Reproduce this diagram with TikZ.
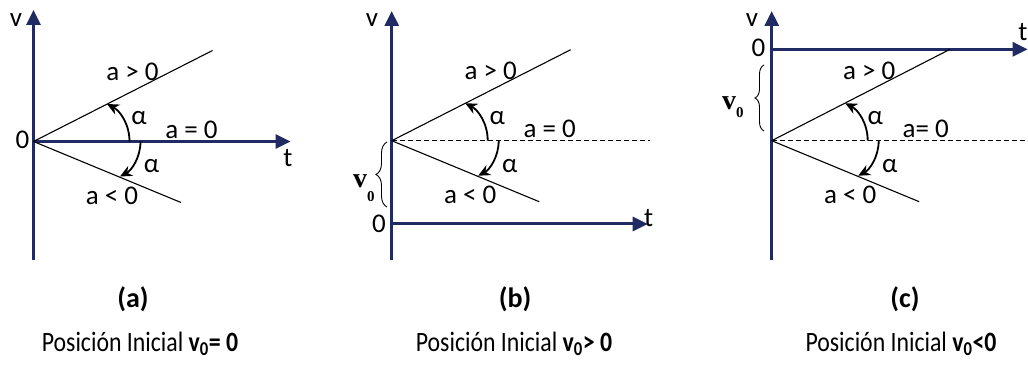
\documentclass[tikz,border=0pt]{standalone}
\usepackage{fontspec}
\setmainfont{Carlito}
\newfontfamily\serifv{Liberation Serif}
\usetikzlibrary{arrows.meta,decorations.pathreplacing}
\definecolor{navy}{RGB}{31,43,98}
\newcommand{\cond}[1]{\scalebox{0.85}[1]{#1}}
\begin{document}
\begin{tikzpicture}[x=1pt,y=-1pt,
  every node/.style={font=\fontsize{27}{32}\selectfont, inner sep=0pt},
  axis/.style={navy, line width=3pt, -{Triangle[length=15pt,width=14pt]}},
  thinline/.style={black, line width=1.1pt},
  zeroline/.style={black, line width=0.9pt, dash pattern=on 5pt off 3pt},
  anglearc/.style={black, line width=1.8pt, -{Stealth[length=12pt,width=11pt]}},
  lbl/.style={anchor=base},
  caption/.style={anchor=base, font=\bfseries\fontsize{28}{32}\selectfont},
  bottomline/.style={anchor=base, font=\fontsize{28}{32}\selectfont},
  bracestyle/.style={black, line width=0.9pt, decorate},
  vzero/.style={anchor=base west, font=\serifv\bfseries\fontsize{28}{30}\selectfont}
]
\useasboundingbox (0,0) rectangle (1028,366);

% ---------- panel (a)
\begin{scope}[shift={(33.5,141.5)}]
  \coordinate (aO) at (0,0);
  \coordinate (aVb) at (0,118.5);
  \coordinate (aVt) at (0,-131.5);
  \coordinate (aTe) at (257,0);
  \coordinate (aU) at (179,-91);
  \coordinate (aL) at (147.5,61);
  \coordinate (aS1) at (96,0);
  \coordinate (aE1) at (73.5,-37.5);
  \coordinate (aS2) at (107,0);
  \coordinate (aE2) at (86.5,35);
  \draw[axis] (aVb) -- (aVt);
  \draw[axis] (aO) -- (aTe);
  \draw[thinline] (aO) -- (aU);
  \draw[thinline] (aO) -- (aL);
  \draw[anglearc] (aS1) .. controls (96,-18) and (86,-31) .. (aE1);
  \draw[anglearc] (aS2) .. controls (107,16) and (98,29) .. (aE2);
  \node[lbl] (aGt) at (99,-61) {a > 0};
  \node[lbl] (aEq) at (158,-3) {a = 0};
  \node[lbl] (aLt) at (78.5,63) {a < 0};
  \node[lbl] (aAl1) at (105.5,-16.5) {α};
  \node[lbl] (aAl2) at (118,31.5) {α};
  \node[lbl] (aV) at (-17.5,-114.5) {v};
  \node[lbl] (aZ) at (-11,6.8) {0};
  \node[lbl] (aT) at (254.5,25.2) {t};
\end{scope}

% ---------- panel (b)
\begin{scope}[shift={(391.7,140.7)}]
  \coordinate (bO) at (0,0);
  \coordinate (bVb) at (0,119.3);
  \coordinate (bVt) at (0,-129.7);
  \coordinate (bT0) at (0,83.3);
  \coordinate (bTe) at (256,83.3);
  \coordinate (bD) at (258.3,0);
  \coordinate (bU) at (179,-91);
  \coordinate (bL) at (147.5,61);
  \coordinate (bS1) at (96,0);
  \coordinate (bE1) at (73.5,-37.5);
  \coordinate (bS2) at (107,0);
  \coordinate (bE2) at (86.5,35);
  \draw[axis] (bVb) -- (bVt);
  \draw[axis] (bT0) -- (bTe);
  \draw[zeroline] (bO) -- (bD);
  \draw[thinline] (bO) -- (bU);
  \draw[thinline] (bO) -- (bL);
  \draw[anglearc] (bS1) .. controls (96,-18) and (86,-31) .. (bE1);
  \draw[anglearc] (bS2) .. controls (107,16) and (98,29) .. (bE2);
  \node[lbl] (bGt) at (99,-61) {a > 0};
  \node[lbl] (bEq) at (158,-3) {a = 0};
  \node[lbl] (bLt) at (78.5,63) {a < 0};
  \node[lbl] (bAl1) at (105.5,-16.5) {α};
  \node[lbl] (bAl2) at (118,31.5) {α};
  \node[lbl] (bV) at (-19.7,-114) {v};
  \node[lbl] (bZ) at (-12.7,92.3) {0};
  \node[lbl] (bT) at (257,86) {t};
\end{scope}
\coordinate (bBr1) at (387,207);
\coordinate (bBr2) at (387,142);
\draw[bracestyle, decoration={brace, amplitude=11pt}] (bBr1) -- (bBr2);
\node[vzero] (bV0) at (353,188) {v\raisebox{-14pt}{\fontsize{15}{16}\selectfont 0}};

% ---------- panel (c)
\begin{scope}[shift={(771.7,140.7)}]
  \coordinate (cO) at (0,0);
  \coordinate (cVb) at (0,119.3);
  \coordinate (cVt) at (0,-129.7);
  \coordinate (cT0) at (0,-91.4);
  \coordinate (cTe) at (256,-91.4);
  \coordinate (cD) at (260,0);
  \coordinate (cU) at (178.3,-91.4);
  \coordinate (cL) at (147.5,61);
  \coordinate (cS1) at (96,0);
  \coordinate (cE1) at (73.5,-37.5);
  \coordinate (cS2) at (107,0);
  \coordinate (cE2) at (86.5,35);
  \draw[axis] (cVb) -- (cVt);
  \draw[axis] (cT0) -- (cTe);
  \draw[zeroline] (cO) -- (cD);
  \draw[thinline] (cO) -- (cU);
  \draw[thinline] (cO) -- (cL);
  \draw[anglearc] (cS1) .. controls (96,-18) and (86,-31) .. (cE1);
  \draw[anglearc] (cS2) .. controls (107,16) and (98,29) .. (cE2);
  \node[lbl] (cGt) at (97.5,-61) {a > 0};
  \node[lbl] (cEq) at (154,-3) {a= 0};
  \node[lbl] (cLt) at (78.5,63) {a < 0};
  \node[lbl] (cAl1) at (103.5,-16.5) {α};
  \node[lbl] (cAl2) at (118,31.5) {α};
  \node[lbl] (cV) at (-19.7,-114) {v};
  \node[lbl] (cZ) at (-13.2,-84) {0};
  \node[lbl, anchor=base east] (cT) at (255.8,-100) {t};
\end{scope}
\coordinate (cBr1) at (764,131);
\coordinate (cBr2) at (764,65);
\draw[bracestyle, decoration={brace, amplitude=9pt}] (cBr1) -- (cBr2);
\node[vzero] (cV0) at (722,110) {v\raisebox{-8pt}{\fontsize{15}{16}\selectfont 0}};

% ---------- captions
\node[caption] (capA) at (133,307) {(a)};
\node[caption] (capB) at (515,307) {(b)};
\node[caption] (capC) at (905,307) {(c)};
\node[bottomline] (posA) at (140,351) {\cond{Posición Inicial \textbf{v\textsubscript{0}= 0}}};
\node[bottomline] (posB) at (514,351) {\cond{Posición Inicial \textbf{v\textsubscript{0}> 0}}};
\node[bottomline] (posC) at (901,351) {\cond{Posición Inicial \textbf{v\textsubscript{0}<0}}};
\end{tikzpicture}
\end{document}
